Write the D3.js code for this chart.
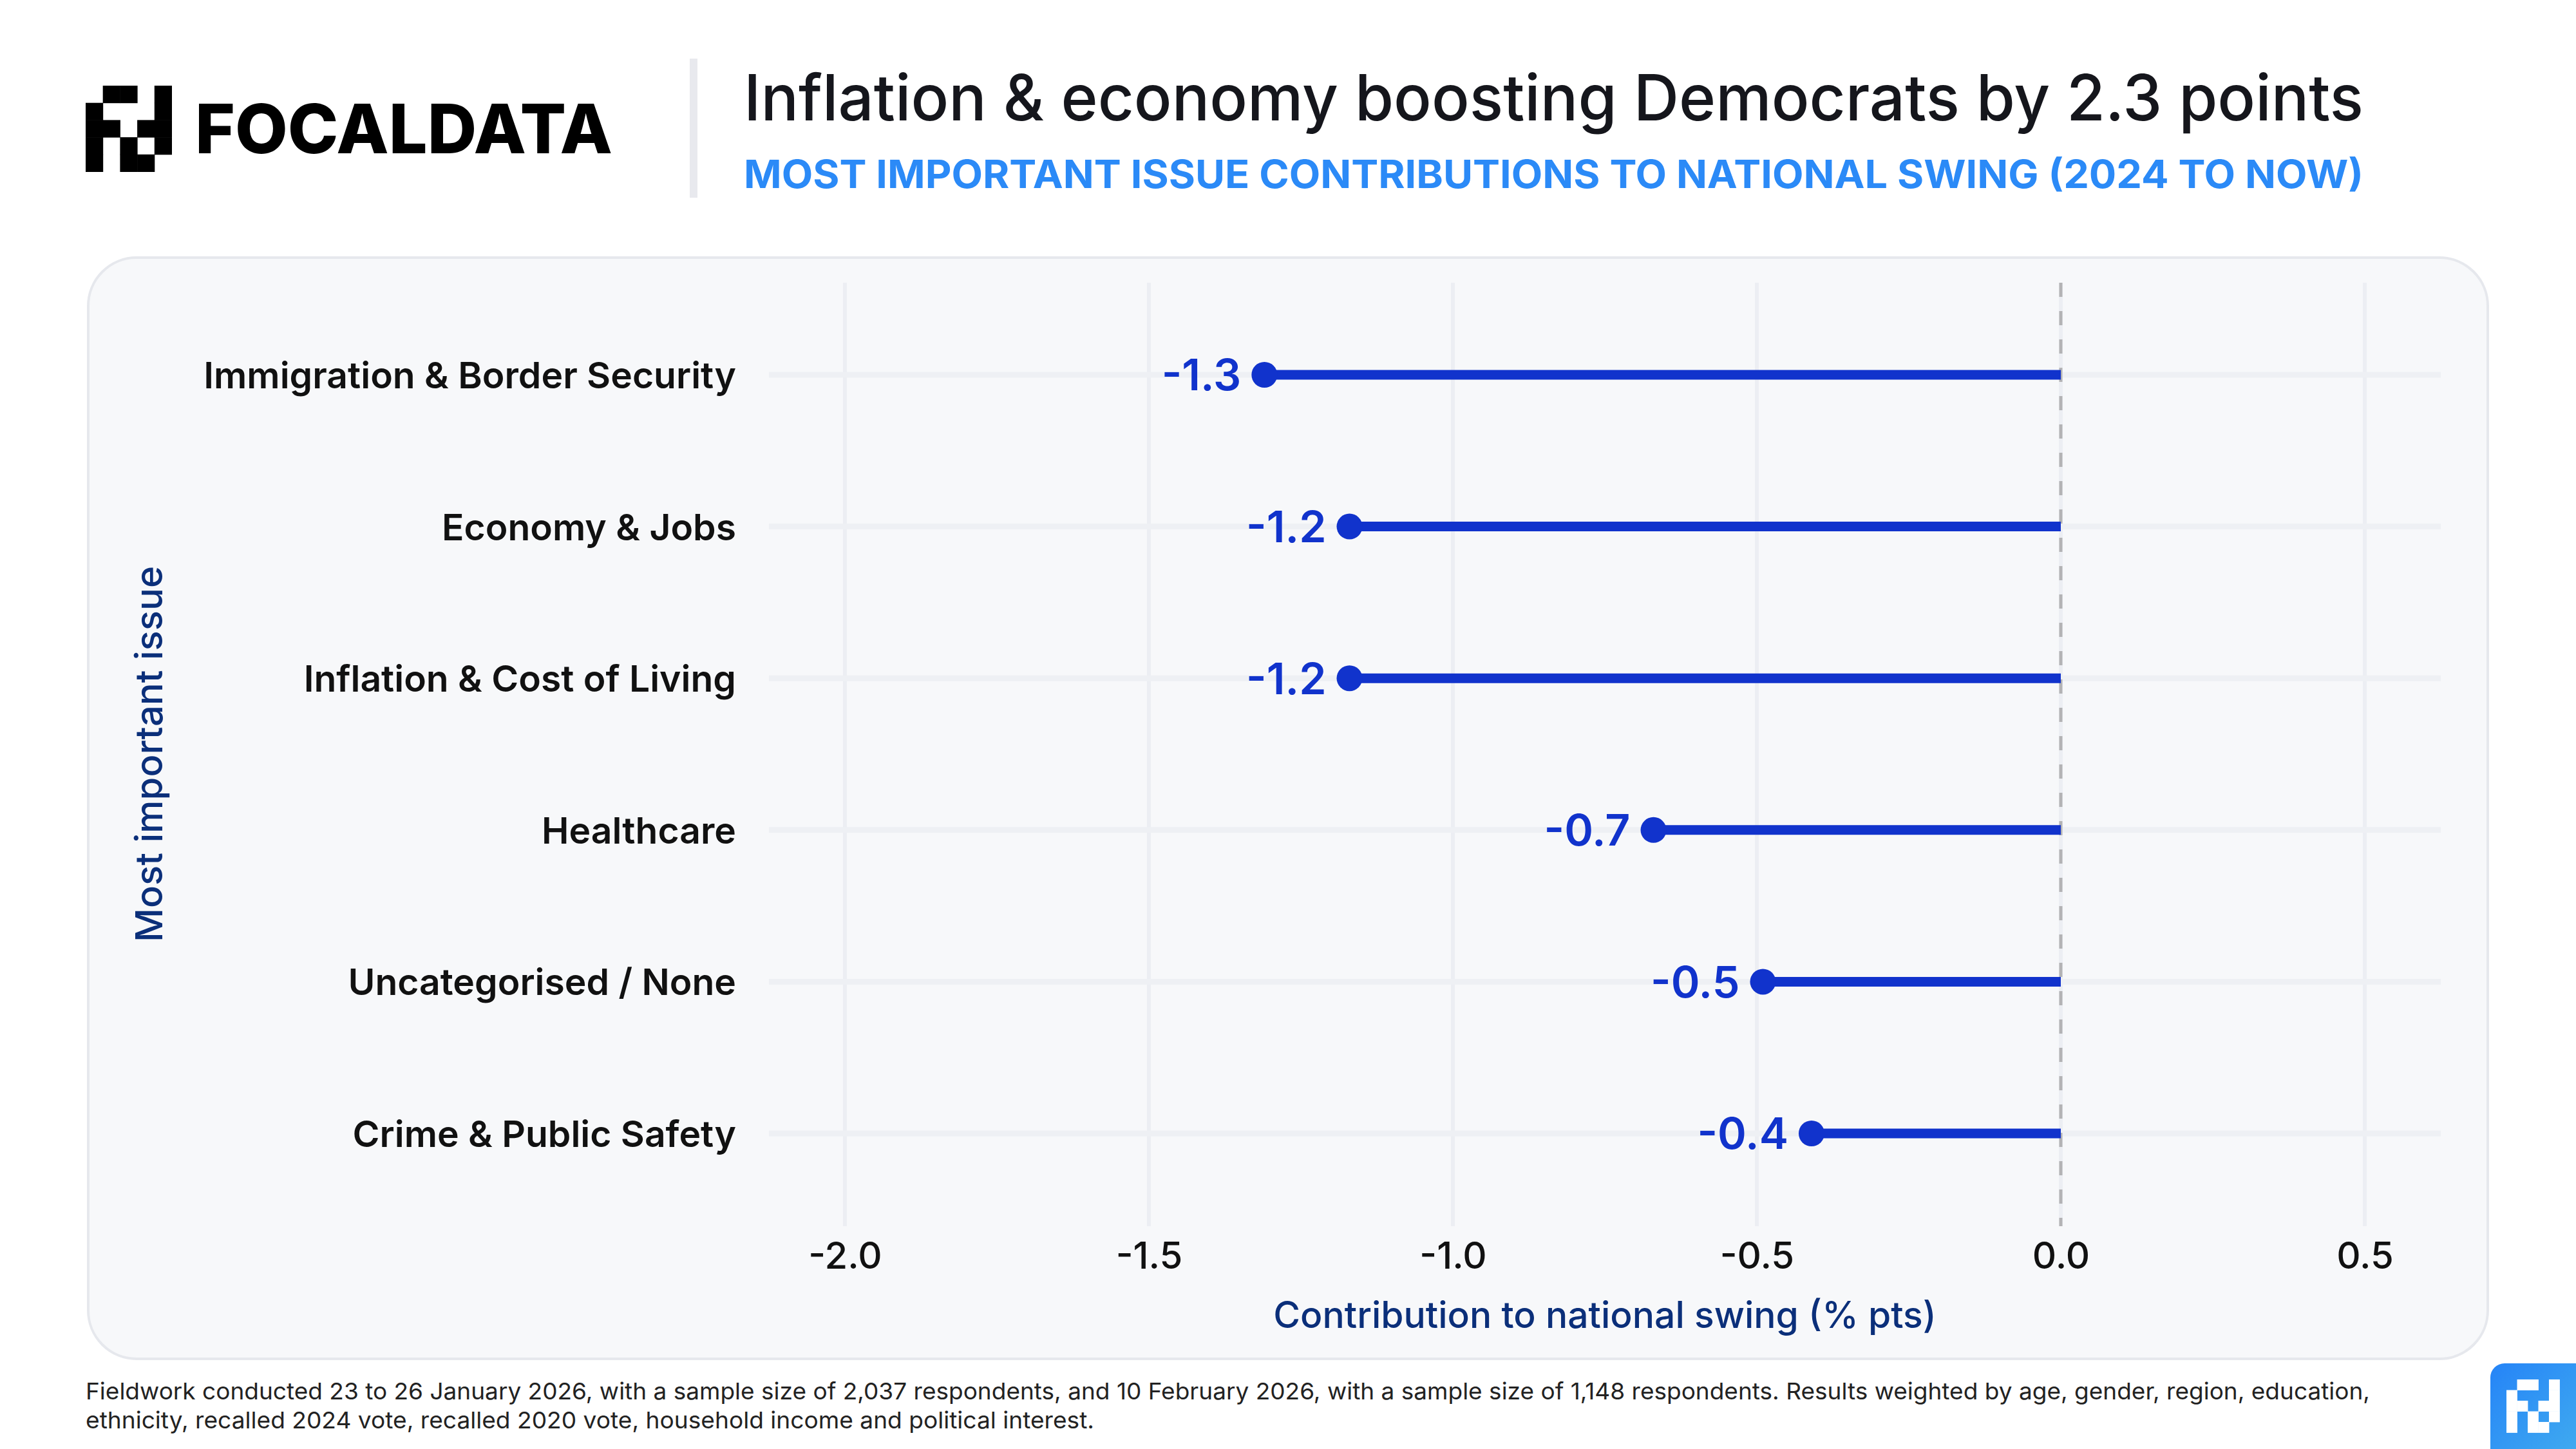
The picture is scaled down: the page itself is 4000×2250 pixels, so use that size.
<!DOCTYPE html>
<html>
<head>
<meta charset="utf-8">
<script src="https://cdn.jsdelivr.net/npm/d3@7"></script>
<style>
  body { margin: 0; background: #ffffff; }
  svg { display: block; font-family: "Inter", "Noto Sans", sans-serif; }
</style>
</head>
<body>
<div id="chart"></div>
<script>
// chart data
var issues = [
  "Immigration & Border Security",
  "Economy & Jobs",
  "Inflation & Cost of Living",
  "Healthcare",
  "Uncategorised / None",
  "Crime & Public Safety"
];
var contributions = [-1.31, -1.17, -1.17, -0.67, -0.49, -0.41];
var xTicks = [-2.0, -1.5, -1.0, -0.5, 0.0, 0.5];

var titleText = "Inflation & economy boosting Democrats by 2.3 points";
var subtitleText = "MOST IMPORTANT ISSUE CONTRIBUTIONS TO NATIONAL SWING (2024 TO NOW)";
var footerLines = [
  "Fieldwork conducted 23 to 26 January 2026, with a sample size of 2,037 respondents, and 10 February 2026, with a sample size of 1,148 respondents. Results weighted by age, gender, region, education,",
  "ethnicity, recalled 2024 vote, recalled 2020 vote, household income and political interest."
];
var footerWidths = [3547, 1566];

// logo pixel cells [col, row] on a 5x5 grid
var logoCells = [[1,0],[2,0],[4,0],[0,1],[4,1],[0,2],[1,2],[3,2],[4,2],[0,3],[2,3],[4,3],[0,4],[2,4],[3,4]];

var data = issues.map(function(d, i) {
  return { issue: d, value: contributions[i] };
});

var svgWidth = 4000;
var svgHeight = 2250;

var svg = d3.select("#chart")
  .append("svg")
  .attr("width", svgWidth)
  .attr("height", svgHeight);

var defs = svg.append("defs");
var grad = defs.append("linearGradient")
  .attr("id", "iconGrad")
  .attr("x1", "0%").attr("y1", "0%")
  .attr("x2", "100%").attr("y2", "100%");
grad.append("stop").attr("offset", "0%").attr("stop-color", "#2584f7");
grad.append("stop").attr("offset", "100%").attr("stop-color", "#4cbcec");

// Header: logo
var logo = svg.append("g").attr("transform", "translate(133, 133)");
var cell = 26.7;
logo.selectAll("rect")
  .data(logoCells)
  .enter()
  .append("rect")
  .attr("x", d => d[0] * cell)
  .attr("y", d => d[1] * cell)
  .attr("width", cell + 0.5)
  .attr("height", cell + 0.5)
  .attr("fill", "#000");

svg.append("text")
  .attr("x", 303)
  .attr("y", 238)
  .attr("font-size", 106)
  .attr("font-weight", 800)
  .attr("fill", "#000")
  .attr("textLength", 648)
  .attr("lengthAdjust", "spacingAndGlyphs")
  .text("FOCALDATA");

// divider
svg.append("rect")
  .attr("x", 1071)
  .attr("y", 91)
  .attr("width", 12)
  .attr("height", 216)
  .attr("fill", "#e8e9ee");

svg.append("text")
  .attr("x", 1155)
  .attr("y", 187)
  .attr("font-size", 99)
  .attr("font-weight", 500)
  .attr("fill", "#15161c")
  .attr("textLength", 2515)
  .attr("lengthAdjust", "spacingAndGlyphs")
  .text(titleText);

svg.append("text")
  .attr("x", 1155)
  .attr("y", 292)
  .attr("font-size", 60)
  .attr("font-weight", 700)
  .attr("fill", "#2b8af7")
  .attr("textLength", 2515)
  .attr("lengthAdjust", "spacingAndGlyphs")
  .text(subtitleText);

// Panel
svg.append("rect")
  .attr("x", 137)
  .attr("y", 400)
  .attr("width", 3726)
  .attr("height", 1710)
  .attr("rx", 75)
  .attr("fill", "#f7f8fa")
  .attr("stroke", "#e6e8ed")
  .attr("stroke-width", 4);

// Scales
var xScale = d3.scaleLinear()
  .domain([-2.125, 0.625])
  .range([1194, 3790]);

var yScale = d3.scalePoint()
  .domain(issues)
  .range([582, 1760]);

var gridTop = 439;
var gridBottom = 1904;

var chartGroup = svg.append("g");

// vertical gridlines
chartGroup.append("g")
  .selectAll("line")
  .data(xTicks)
  .enter()
  .append("line")
  .attr("x1", d => xScale(d))
  .attr("x2", d => xScale(d))
  .attr("y1", gridTop)
  .attr("y2", gridBottom)
  .attr("stroke", "#eceef3")
  .attr("stroke-width", 6);

// horizontal gridlines per row
chartGroup.append("g")
  .selectAll("line")
  .data(issues)
  .enter()
  .append("line")
  .attr("x1", xScale.range()[0])
  .attr("x2", xScale.range()[1])
  .attr("y1", d => yScale(d))
  .attr("y2", d => yScale(d))
  .attr("stroke", "#eef0f4")
  .attr("stroke-width", 9);

// zero reference line
chartGroup.append("line")
  .attr("x1", xScale(0))
  .attr("x2", xScale(0))
  .attr("y1", gridTop)
  .attr("y2", gridBottom)
  .attr("stroke", "#b3b3b5")
  .attr("stroke-width", 5)
  .attr("stroke-dasharray", "22,22");

// x axis
var bottomAxis = d3.axisBottom(xScale)
  .tickValues(xTicks)
  .tickSize(0)
  .tickPadding(25)
  .tickFormat(d => d.toFixed(1));

var xAxisG = chartGroup.append("g")
  .attr("transform", `translate(0, ${gridBottom})`)
  .call(bottomAxis);
xAxisG.select(".domain").remove();
xAxisG.selectAll("text")
  .attr("font-family", "Inter, sans-serif")
  .attr("font-size", 58)
  .attr("font-weight", 500)
  .attr("fill", "#111");

// y axis
var leftAxis = d3.axisLeft(yScale)
  .tickSize(0)
  .tickPadding(51);

var yAxisG = chartGroup.append("g")
  .attr("transform", `translate(${xScale.range()[0]}, 0)`)
  .call(leftAxis);
yAxisG.select(".domain").remove();
yAxisG.selectAll("text")
  .attr("font-family", "Inter, sans-serif")
  .attr("font-size", 57)
  .attr("font-weight", 600)
  .attr("fill", "#111")
  .attr("dy", "0.36em");

// lollipop stems
chartGroup.append("g")
  .selectAll("line")
  .data(data)
  .enter()
  .append("line")
  .attr("x1", xScale(0))
  .attr("x2", d => xScale(d.value))
  .attr("y1", d => yScale(d.issue))
  .attr("y2", d => yScale(d.issue))
  .attr("stroke", "#1133cc")
  .attr("stroke-width", 15);

// dots
chartGroup.append("g")
  .selectAll("circle")
  .data(data)
  .enter()
  .append("circle")
  .attr("cx", d => xScale(d.value))
  .attr("cy", d => yScale(d.issue))
  .attr("r", 20)
  .attr("fill", "#1133cc");

// value labels
chartGroup.append("g")
  .selectAll("text")
  .data(data)
  .enter()
  .append("text")
  .attr("x", d => xScale(d.value) - 36)
  .attr("y", d => yScale(d.issue))
  .attr("dy", "0.36em")
  .attr("text-anchor", "end")
  .attr("font-size", 68)
  .attr("font-weight", 600)
  .attr("fill", "#1133cc")
  .text(d => d.value.toFixed(1));

// axis titles
chartGroup.append("text")
  .attr("x", (xScale.range()[0] + xScale.range()[1]) / 2)
  .attr("y", 2062)
  .attr("text-anchor", "middle")
  .attr("font-size", 57)
  .attr("font-weight", 500)
  .attr("fill", "#0b2f7a")
  .text("Contribution to national swing (% pts)");

chartGroup.append("text")
  .attr("transform", `translate(252, 1171) rotate(-90)`)
  .attr("text-anchor", "middle")
  .attr("font-size", 58)
  .attr("font-weight", 500)
  .attr("fill", "#0b2f7a")
  .text("Most important issue");

// footer
svg.append("g")
  .selectAll("text")
  .data(footerLines)
  .enter()
  .append("text")
  .attr("x", 133)
  .attr("y", (d, i) => 2173 + i * 45)
  .attr("font-size", 36)
  .attr("font-weight", 400)
  .attr("fill", "#222")
  .attr("textLength", (d, i) => footerWidths[i])
  .attr("lengthAdjust", "spacingAndGlyphs")
  .text(d => d);

// corner icon
var icon = svg.append("g");
icon.append("rect")
  .attr("x", 3867)
  .attr("y", 2117)
  .attr("width", 200)
  .attr("height", 200)
  .attr("rx", 22)
  .attr("fill", "url(#iconGrad)");
var iconCell = 16.5;
icon.append("g")
  .attr("transform", "translate(3892, 2142)")
  .selectAll("rect")
  .data(logoCells)
  .enter()
  .append("rect")
  .attr("x", d => d[0] * iconCell)
  .attr("y", d => d[1] * iconCell)
  .attr("width", iconCell + 0.4)
  .attr("height", iconCell + 0.4)
  .attr("fill", "#fff");
</script>
</body>
</html>
